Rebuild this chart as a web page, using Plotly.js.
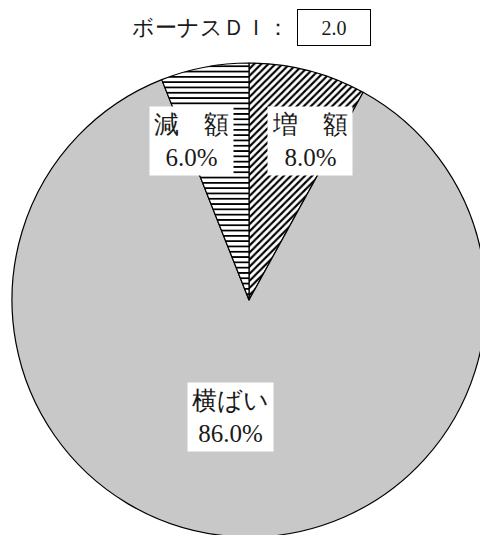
<!DOCTYPE html>
<html>
<head>
<meta charset="utf-8">
<script src="https://cdn.plot.ly/plotly-3.0.1.min.js"></script>
<style>
  html, body { margin: 0; padding: 0; background: #fff; overflow: hidden; }
  #chart { width: 486px; height: 540px; }
</style>
</head>
<body>
<div id="chart"></div>
<script>
// Bonus survey: share of respondents (%)
const categories = ['増　額', '横ばい', '減　額'];
const shares = [8.0, 86.0, 6.0];
const sliceColors = ['#ffffff', '#c8c8c8', '#ffffff'];
const slicePatterns = ['/', '', '-'];
const diTitle = 'ボーナスＤＩ：';

// DI = increase share minus decrease share
const di = shares[0] - shares[2];

const W = 486, H = 540;
const serif = 'Liberation Serif, serif';

const trace = {
  type: 'pie',
  labels: categories,
  values: shares,
  sort: false,
  direction: 'clockwise',
  rotation: 0,
  textinfo: 'none',
  hoverinfo: 'skip',
  showlegend: false,
  domain: { x: [12 / W, 1], y: [1 - 537 / H, 1 - 63 / H] },
  marker: {
    colors: sliceColors,
    line: { color: '#000', width: 1.2 },
    pattern: {
      shape: slicePatterns,
      bgcolor: sliceColors,
      fgcolor: '#000',
      fgopacity: [1, 1, 0.65],
      size: [5, 5, 5.3],
      solidity: [0.42, 0.3, 0.34]
    }
  }
};

// label boxes placed in pixel terms of the figure
const px = (x) => x / W;
const py = (y) => 1 - y / H;
const labelPos = [[310, 141], [230, 417], [191, 141]];

const annotations = categories.map((c, i) => ({
  xref: 'paper', yref: 'paper',
  x: px(labelPos[i][0]), y: py(labelPos[i][1]),
  xanchor: 'center', yanchor: 'middle',
  text: c + '<br>' + shares[i].toFixed(1) + '%',
  showarrow: false,
  bgcolor: '#ffffff',
  borderpad: 4,
  font: { family: serif, size: 25, color: '#1a1a1a' }
}));

annotations.push({
  xref: 'paper', yref: 'paper',
  x: px(291), y: py(28),
  xanchor: 'right', yanchor: 'middle',
  text: diTitle,
  showarrow: false,
  font: { family: serif, size: 22, color: '#1a1a1a' }
});
annotations.push({
  xref: 'paper', yref: 'paper',
  x: px(334), y: py(28),
  xanchor: 'center', yanchor: 'middle',
  text: di.toFixed(1),
  showarrow: false,
  width: 70, height: 33,
  bordercolor: '#000', borderwidth: 1, borderpad: 1,
  bgcolor: '#ffffff',
  font: { family: serif, size: 20, color: '#1a1a1a' }
});

const layout = {
  width: W, height: H,
  margin: { l: 0, r: 0, t: 0, b: 0 },
  paper_bgcolor: '#ffffff',
  annotations: annotations
};

Plotly.newPlot('chart', [trace], layout, { staticPlot: true, displayModeBar: false });
</script>
</body>
</html>
